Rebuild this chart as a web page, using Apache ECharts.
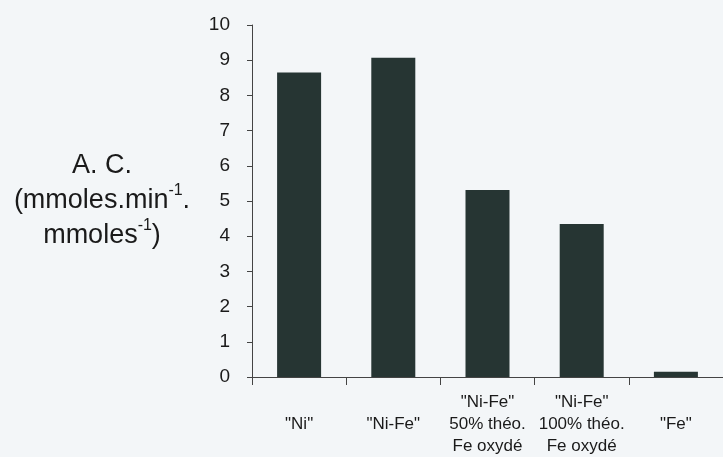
<!DOCTYPE html>
<html>
<head>
<meta charset="utf-8">
<script src="https://cdn.jsdelivr.net/npm/echarts@6/dist/echarts.min.js"></script>
<style>
html,body{margin:0;padding:0;background:#f3f6f8;}
#c{width:723px;height:457px;}
</style>
</head>
<body>
<div id="c"></div>
<script>
const categories = ['"Ni"', '"Ni-Fe"', '"Ni-Fe"\n50% théo.\nFe oxydé', '"Ni-Fe"\n100% théo.\nFe oxydé', '"Fe"'];
const values = [8.65, 9.07, 5.31, 4.35, 0.15];
const yTicks = { min: 0, max: 10, interval: 1 };

const chart = echarts.init(document.getElementById('c'), null, { renderer: 'canvas' });
chart.setOption({
  backgroundColor: '#f3f6f8',
  animation: false,
  title: {
    left: 102, top: 148, textAlign: 'center', padding: 0,
    text: 'A. C.\n(mmoles.min{sup|-1}.\nmmoles{sup|-1})',
    textStyle: {
      fontFamily: 'Liberation Sans', fontSize: 27, fontWeight: 'normal', color: '#1a1a1a',
      lineHeight: 35, align: 'center',
      rich: { sup: { fontSize: 16, verticalAlign: 'top', padding: [0, 0, 12, 0], lineHeight: 35, fontFamily: 'Liberation Sans', color: '#1a1a1a' } }
    }
  },
  grid: { left: 252, top: 25, bottom: 78, right: -9, containLabel: false },
  xAxis: {
    type: 'category',
    data: categories,
    axisLine: { lineStyle: { color: '#444', width: 1 } },
    axisTick: { show: true, length: 8, lineStyle: { color: '#444' } },
    axisLabel: {
      interval: 0, margin: 47, verticalAlign: 'middle',
      fontFamily: 'Liberation Sans', fontSize: 17, lineHeight: 22, color: '#1a1a1a'
    }
  },
  yAxis: {
    type: 'value', min: yTicks.min, max: yTicks.max, interval: yTicks.interval,
    axisLine: { show: true, lineStyle: { color: '#444', width: 1 } },
    axisTick: { show: true, length: 5, lineStyle: { color: '#444' } },
    splitLine: { show: false },
    axisLabel: { margin: 22, fontFamily: 'Liberation Sans', fontSize: 19, color: '#1a1a1a' }
  },
  series: [{
    type: 'bar', data: values, barWidth: 44,
    itemStyle: { color: '#263533' }
  }]
});
</script>
</body>
</html>
